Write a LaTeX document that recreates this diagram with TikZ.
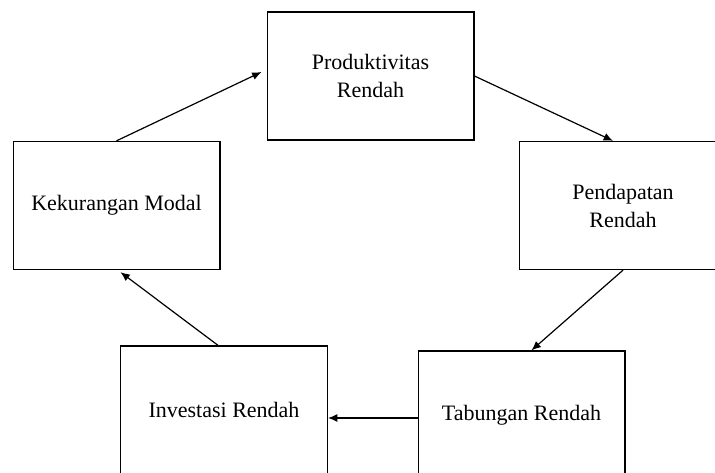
\documentclass[tikz,border=0pt]{standalone}
\usepackage{fontspec}
\setmainfont{Liberation Serif}
\usetikzlibrary{calc,arrows.meta}

\begin{document}
\begin{tikzpicture}[x=0.75pt, y=-0.75pt,
  box/.style={draw, line width=1pt, minimum width=155pt, minimum height=96pt, align=center, inner sep=0pt, font=\fontsize{16.5}{21}\selectfont},
  flow/.style={-{Latex[length=7pt, width=6pt]}, line width=0.9pt, black}]
\clip (0, 0) rectangle (715, 472);

\node [box] (prod) at (370.5, 76) {Produktivitas\\Rendah};
\node [box] (pend) at (623, 205.5) {Pendapatan\\Rendah};
\node [box] (kek) at (116.5, 205.5) {Kekurangan Modal};
\node [box] (inv) at (224, 410) {Investasi Rendah};
\node [box] (tab) at (521.5, 415) {Tabungan Rendah};

\draw [flow] (kek.north) -- ($(prod.west)+(-5, -4)$);
\draw [flow] (prod.east) -- ($(pend.north)+(-10, 0)$);
\draw [flow] (pend.south) -- ($(tab.north)+(10, 0)$);
\draw [flow] ($(tab.west)+(0, 3)$) -- ($(inv.east |- tab.west)+(0, 3)$);
\draw [flow] ($(inv.north)+(-6, 0)$) -- ($(kek.south)+(4, 2)$);
\end{tikzpicture}
\end{document}
